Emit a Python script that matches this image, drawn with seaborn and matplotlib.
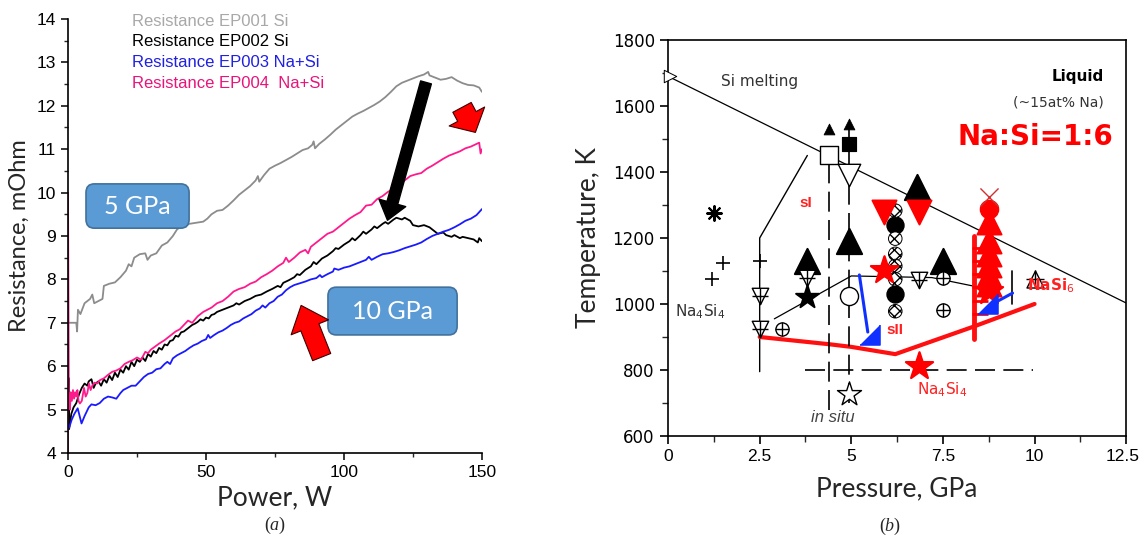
"""Resistance vs power curves (a) and Na-Si P-T phase diagram (b)"""
import numpy as np
import pandas as pd
import matplotlib
matplotlib.use('Agg')
import matplotlib.pyplot as plt
import matplotlib.transforms as mtransforms
import seaborn as sns
from matplotlib.patches import FancyArrowPatch, FancyBboxPatch
from matplotlib.ticker import MultipleLocator

# ---------------- data, panel (a): resistance (mOhm) vs power (W)
grey_pts = [(0, 7.0), (2, 7.0), (3.0, 7.0), (3.3, 6.8), (3.6, 7.3), (4.5, 7.2), (6, 7.45), (8, 7.55),
            (8.8, 7.65), (9.5, 7.45), (11, 7.5), (12.5, 7.55), (13, 7.85), (15, 7.9), (17, 7.93),
            (19, 8.05), (21, 8.2), (22, 8.35), (23, 8.3), (24, 8.5), (26, 8.58), (28, 8.6), (28.8, 8.45),
            (30, 8.55), (32, 8.6), (34, 8.78), (36, 8.85), (38, 9.0), (39.5, 9.15), (41, 9.22), (43, 9.27),
            (46, 9.3), (49, 9.33), (50.5, 9.4), (52, 9.5), (54, 9.58), (56, 9.6), (58, 9.7), (60, 9.82),
            (62, 9.95), (64, 10.05), (66, 10.15), (68, 10.28), (68.8, 10.38), (69.3, 10.25), (71, 10.4),
            (73, 10.55), (75, 10.62), (77, 10.68), (79, 10.75), (81, 10.82), (83, 10.9), (85, 10.98),
            (87, 11.02), (88.5, 11.1), (89, 11.18), (89.5, 11.02), (91, 11.12), (93, 11.22), (95, 11.33),
            (97, 11.45), (99, 11.55), (101, 11.65), (103, 11.75), (105, 11.82), (107, 11.88), (109, 11.95),
            (111, 12.02), (113, 12.1), (115, 12.2), (117, 12.32), (119, 12.45), (121, 12.53), (123, 12.58),
            (125, 12.63), (127, 12.68), (129, 12.72), (130.5, 12.78), (131, 12.7), (133, 12.65), (135, 12.6),
            (137, 12.62), (139, 12.66), (141, 12.58), (143, 12.52), (145, 12.48), (147, 12.47), (149, 12.42),
            (150, 12.32)]

black_pts = [(0.4, 5.72), (0.4, 4.55), (1.2, 4.9), (2, 5.05), (3, 5.15), (4, 5.35), (5, 5.5), (6, 5.6),
             (7, 5.55), (7.5, 5.65), (8.5, 5.7), (9.3, 5.5), (10, 5.6), (11, 5.65), (12, 5.55), (13, 5.7),
             (14, 5.62), (15, 5.78), (16, 5.68), (17, 5.85), (18, 5.75), (19, 5.92), (20, 5.85), (21, 6.0),
             (22, 5.92), (23, 6.1), (24, 6.0), (25, 6.15), (26, 6.1), (27, 6.2), (28, 6.12), (29, 6.28),
             (30, 6.22), (31, 6.35), (32, 6.3), (33, 6.42), (34, 6.38), (35, 6.5), (36, 6.48), (37, 6.58),
             (38, 6.6), (39, 6.7), (40, 6.68), (41, 6.78), (42, 6.8), (43, 6.85), (44, 6.9), (45, 6.95),
             (46, 6.98), (47, 7.02), (48, 7.08), (49, 7.05), (50, 7.12), (51, 7.1), (52, 7.18), (53, 7.2),
             (54, 7.25), (56, 7.3), (58, 7.35), (60, 7.4), (61, 7.45), (62, 7.42), (64, 7.5), (66, 7.55),
             (68, 7.62), (70, 7.65), (72, 7.72), (74, 7.78), (76, 7.85), (77, 7.82), (78, 7.92), (80, 7.98),
             (82, 8.05), (83, 8.12), (84, 8.1), (86, 8.22), (88, 8.3), (89, 8.4), (90, 8.35), (92, 8.48),
             (94, 8.55), (96, 8.65), (97, 8.72), (98, 8.7), (100, 8.8), (102, 8.88), (103, 8.95), (104, 8.9),
             (106, 9.02), (107, 9.1), (108, 9.05), (110, 9.15), (111, 9.22), (112, 9.18), (114, 9.28),
             (115, 9.32), (116, 9.28), (118, 9.38), (119, 9.42), (121, 9.38), (122, 9.42), (124, 9.35),
             (125, 9.25), (127, 9.22), (129, 9.25), (131, 9.2), (133, 9.1), (134, 9.05), (136, 9.08),
             (137, 9.02), (139, 8.98), (140, 9.02), (142, 8.95), (143, 8.98), (145, 8.95), (147, 8.92),
             (148.5, 8.85), (149, 8.95), (150, 8.88)]

blue_pts = [(0, 4.55), (0.5, 4.6), (1.3, 4.76), (2.3, 4.9), (3.5, 5.03), (4.9, 4.68), (6, 4.85), (7.5, 5.05),
            (8.5, 5.12), (10, 5.1), (11.5, 5.15), (13, 5.25), (14.5, 5.3), (16, 5.28), (17.5, 5.25),
            (19, 5.38), (20, 5.45), (21.5, 5.5), (23, 5.55), (24.5, 5.55), (26, 5.65), (27.5, 5.75),
            (29, 5.82), (30.5, 5.85), (32, 5.93), (33.5, 5.95), (35, 6.05), (36, 6.1), (37, 6.05),
            (38, 6.18), (39.5, 6.25), (41, 6.3), (42.5, 6.35), (44, 6.42), (45.5, 6.48), (47, 6.52),
            (48.5, 6.58), (50, 6.62), (50.8, 6.72), (51.5, 6.65), (53, 6.72), (54.5, 6.78), (56, 6.82),
            (57.5, 6.88), (59, 6.95), (60.5, 7.0), (62, 7.03), (63.5, 7.1), (65, 7.15), (66.5, 7.2),
            (68, 7.28), (69.5, 7.33), (70.5, 7.4), (71.5, 7.35), (73, 7.45), (74.5, 7.5), (76, 7.6),
            (77.5, 7.65), (79, 7.75), (80.5, 7.82), (82, 7.87), (84, 7.91), (86, 7.95), (88, 8.0),
            (90, 8.03), (91.3, 8.1), (92, 8.05), (94, 8.12), (96, 8.18), (96.5, 8.25), (98, 8.22),
            (100, 8.27), (102, 8.3), (104, 8.35), (106, 8.4), (108, 8.45), (109, 8.52), (110, 8.45),
            (112, 8.52), (114, 8.58), (116, 8.6), (118, 8.63), (120, 8.67), (122, 8.72), (124, 8.76),
            (126, 8.8), (128, 8.85), (130, 8.93), (132, 9.0), (134, 9.05), (136, 9.1), (138, 9.14),
            (140, 9.2), (142, 9.27), (144, 9.35), (146, 9.4), (148, 9.48), (150, 9.62)]

pink_pts = [(0, 4.0), (0, 10.0), (0.3, 5.3), (0.7, 5.0), (1.0, 5.4), (1.4, 5.2), (1.8, 5.45), (2.2, 5.25),
            (2.6, 5.4), (3.0, 5.3), (3.4, 5.45), (3.8, 5.2), (4.3, 5.14), (5.0, 5.2), (5.8, 5.5), (6.4, 5.3),
            (7.0, 5.38), (7.6, 5.6), (8.2, 5.45), (8.8, 5.55), (9.6, 5.62), (10.5, 5.6), (11.6, 5.68),
            (13, 5.72), (14.5, 5.8), (16, 5.87), (17.5, 5.9), (19, 5.95), (20.5, 6.05), (22, 6.1),
            (23.5, 6.14), (25, 6.2), (26.5, 6.15), (28, 6.33), (29, 6.3), (30, 6.38), (31.5, 6.45),
            (33, 6.52), (35, 6.6), (37, 6.7), (39, 6.8), (40.5, 6.85), (42, 6.95), (43.5, 7.05), (45, 7.0),
            (47, 7.15), (49, 7.25), (50.5, 7.3), (52, 7.35), (54, 7.45), (56, 7.5), (58, 7.6), (60, 7.72),
            (62, 7.78), (64, 7.82), (66, 7.9), (68, 7.95), (70, 8.05), (72, 8.12), (74, 8.2), (76, 8.3),
            (78, 8.38), (79, 8.5), (80, 8.4), (82, 8.5), (84, 8.62), (86, 8.68), (87, 8.6), (88, 8.75),
            (90, 8.85), (92, 8.95), (94, 9.05), (96, 9.1), (98, 9.2), (100, 9.3), (102, 9.4), (104, 9.48),
            (106, 9.55), (108, 9.7), (110, 9.72), (112, 9.85), (114, 9.92), (116, 10.02), (118, 10.08),
            (120, 10.2), (122, 10.28), (124, 10.38), (126, 10.42), (128, 10.45), (130, 10.55), (132, 10.62),
            (134, 10.7), (136, 10.78), (138, 10.85), (140, 10.9), (142, 10.95), (144, 11.02), (146, 11.06),
            (148, 11.12), (149, 11.15), (149.5, 10.9), (150, 11.0)]

series_names = ['Resistance EP001 Si', 'Resistance EP002 Si', 'Resistance EP003 Na+Si', 'Resistance EP004  Na+Si']
series_pts = [grey_pts, black_pts, blue_pts, pink_pts]
line_colors = ['#8c8c8c', '#000000', '#1a1aff', '#ff1a8c']
label_colors = ['#a8a8a8', '#000000', '#2020e0', '#e8147a']

# ---------------- data, panel (b): pressure (GPa) / temperature (K)
si_melt_p, si_melt_t = [0, 12.5], [1690, 1003]
si_bound_p, si_bound_t = [3.8, 2.5, 2.5], [1450, 1200, 795]
na4si4_bound_p, na4si4_bound_t = [2.9, 5.0, 7.2, 8.3], [955, 1085, 1080, 1055]
red_bound_p, red_bound_t = [2.5, 4.4, 5.0, 6.2, 8.3, 10.0], [900, 878, 870, 848, 930, 1000]
blue_arrow_p, blue_arrow_t = [5.22, 5.45], [1088, 915]
blue_arrow2_p, blue_arrow2_t = [8.8, 9.4], [997, 1033]

tri_big_p, tri_big_t = [3.8, 4.95, 6.8, 7.5], [1130, 1190, 1355, 1130]
tri_small_p, tri_small_t = [4.4, 4.95], [1530, 1545]
sq_fill_p, sq_fill_t = [4.95], [1485]
sq_open_p, sq_open_t = [4.4], [1450]
vopen_p, vopen_t = [4.95], [1390]
circ_open_p, circ_open_t = [4.95], [1025]
circ_fill_p, circ_fill_t = [6.2, 6.2], [1240, 1030]
hatch_p, hatch_t = [6.2, 6.2, 6.2, 6.2, 6.2, 6.2], [1283, 1198, 1152, 1115, 1075, 978]
plus_p, plus_t = [1.2, 1.5, 2.5], [1075, 1125, 1130]
aster_p, aster_t = [1.25], [1275]
vcross_p, vcross_t = [2.5, 2.5, 3.8, 6.85], [1025, 925, 1078, 1072]
oplus_p, oplus_t = [3.1, 7.5, 7.5], [925, 1078, 982]
star_p, star_t = [3.8], [1020]
star_open_p, star_open_t = [4.95], [728]
tri_cross_p, tri_cross_t = [10.0], [1075]
red_v_p, red_v_t = [5.9, 6.85], [1278, 1278]
red_star_p, red_star_t = [5.9, 6.85, 8.75], [1102, 813, 1040]
red_tri_p, red_tri_t = [8.75, 8.75, 8.75, 8.75, 8.75, 8.75], [1248, 1190, 1150, 1118, 1088, 1060]
red_circ_p, red_circ_t = [8.75], [1288]
red_x_p, red_x_t = [8.75], [1325]
red_rung_p, red_rung_t = [8.5, 8.5, 8.5, 8.5, 8.5, 8.5], [1170, 1130, 1090, 1050, 1010, 970]
blue_tri_p, blue_tri_t = [8.72, 5.5], [1000, 905]

sns.set_theme(style='ticks')
plt.rcParams['font.family'] = ['Liberation Sans', 'DejaVu Sans']
plt.rcParams['mathtext.fontset'] = 'custom'
plt.rcParams['mathtext.rm'] = 'DejaVu Sans'
plt.rcParams['mathtext.it'] = 'Liberation Serif:italic'

fig = plt.figure(figsize=(11.41, 5.36), dpi=100)
ax1 = fig.add_axes([0.0596, 0.1549, 0.3628, 0.8097])
ax2 = fig.add_axes([0.5855, 0.1866, 0.4015, 0.7388])

# ================= panel (a)
for name, pts, col in zip(series_names, series_pts, line_colors):
    df = pd.DataFrame(pts, columns=['Power', 'R'])
    sns.lineplot(data=df, x='Power', y='R', sort=False, estimator=None, color=col, lw=1.3, ax=ax1)

ax1.set_xlim(0, 150)
ax1.set_ylim(4, 14)
ax1.xaxis.set_major_locator(MultipleLocator(50))
ax1.xaxis.set_minor_locator(MultipleLocator(25))
ax1.yaxis.set_major_locator(MultipleLocator(1))
ax1.yaxis.set_minor_locator(MultipleLocator(0.5))
ax1.tick_params(which='major', direction='out', length=5, width=1.1, labelsize=12.5, colors='black')
ax1.tick_params(which='minor', direction='out', length=3, width=1.0)
for s in ['top', 'right']:
    ax1.spines[s].set_visible(False)
for s in ['left', 'bottom']:
    ax1.spines[s].set_linewidth(1.2)
    ax1.spines[s].set_color('black')
ax1.set_xlabel('Power, W', fontsize=19, family='Lato', labelpad=4)
ax1.set_ylabel('Resistance, mOhm', fontsize=17, family='Lato', labelpad=5)

for i, (name, col) in enumerate(zip(series_names, label_colors)):
    ax1.text(23.2, 13.95 - 0.48 * i, name, color=col, fontsize=12, va='center', ha='left')

# blue GPa boxes
for (x0, y0, w, h), txt in [((0.0435, 0.518, 0.249, 0.102), '5 GPa'),
                            ((0.628, 0.272, 0.312, 0.110), '10 GPa')]:
    box = FancyBboxPatch((x0, y0), w, h, boxstyle='round,pad=0,rounding_size=0.02',
                         transform=ax1.transAxes, fc='#5b9bd5', ec='#41719c', lw=1.2,
                         clip_on=False, zorder=5)
    ax1.add_patch(box)
    ax1.text(x0 + w / 2, y0 + h / 2, txt, transform=ax1.transAxes, ha='center', va='center',
             color='white', fontsize=18, family='Lato', zorder=6)

# arrows
ax1.add_patch(FancyArrowPatch((130.0, 12.6), (115.5, 9.3), arrowstyle='simple,head_length=13,head_width=20,tail_width=8',
                              mutation_scale=1, fc='black', ec='black', zorder=7, clip_on=False))
ax1.add_patch(FancyArrowPatch((142.3, 12.02), (148.1, 11.33), arrowstyle='simple,head_length=13,head_width=29,tail_width=15',
                              mutation_scale=1, fc='#ff0000', ec='#400000', lw=0.8, zorder=7, clip_on=False))
ax1.add_patch(FancyArrowPatch((92.3, 6.15), (84.1, 7.46), arrowstyle='simple,head_length=17,head_width=29,tail_width=14',
                              mutation_scale=1, fc='#ff0000', ec='#400000', lw=0.8, zorder=7, clip_on=False))

# ================= panel (b)
def line(px, pt, **kw):
    sns.lineplot(x=px, y=pt, sort=False, estimator=None, ax=ax2, **kw)

line(si_melt_p, si_melt_t, color='black', lw=0.9)
line(si_bound_p, si_bound_t, color='black', lw=1.0)
line(na4si4_bound_p, na4si4_bound_t, color='black', lw=0.9)
line(red_bound_p, red_bound_t, color='#ff1010', lw=3.0)
line([4.4, 4.4], [680, 1450], color='black', lw=1.2, dashes=(12, 5))
line([4.95, 4.95], [700, 1400], color='black', lw=1.2, dashes=(12, 5))
line([4.95, 4.95], [1400, 1545], color='black', lw=1.2)
line([3.75, 9.95], [800, 800], color='black', lw=1.2, dashes=(12, 5))
line([9.38, 9.38], [1000, 1100], color='black', lw=1.2)
line([8.35, 8.35], [895, 1205], color='#ff1010', lw=3.5)
line(blue_arrow_p, blue_arrow_t, color='#1030ff', lw=2.2)
line(blue_arrow2_p, blue_arrow2_t, color='#1030ff', lw=2.2)

def pts(px, pt, **kw):
    sns.scatterplot(x=px, y=pt, ax=ax2, zorder=4, **kw)

pts(tri_big_p, tri_big_t, marker='^', s=330, color='black', edgecolor='black')
pts(tri_small_p, tri_small_t, marker='^', s=60, color='black', edgecolor='black')
pts(sq_fill_p, sq_fill_t, marker='s', s=110, color='black', edgecolor='black')
pts(sq_open_p, sq_open_t, marker='s', s=150, facecolor='white', edgecolor='black', linewidth=1.0)
pts(vopen_p, vopen_t, marker='v', s=260, facecolor='white', edgecolor='black', linewidth=1.0)
pts(circ_open_p, circ_open_t, marker='o', s=170, facecolor='white', edgecolor='black', linewidth=1.0)
pts(circ_fill_p, circ_fill_t, marker='o', s=150, color='black', edgecolor='black')
pts(hatch_p, hatch_t, marker='o', s=95, facecolor='white', edgecolor='black', linewidth=0.7, hatch='xxx')
pts(plus_p, plus_t, marker='+', s=110, color='black', linewidth=1.2)
pts(aster_p, aster_t, marker=(8, 2, 0), s=110, color='black', linewidth=1.5)
pts(vcross_p, vcross_t, marker='v', s=140, facecolor='white', edgecolor='black', linewidth=1.0)
pts(vcross_p, vcross_t, marker='+', s=140, color='black', linewidth=1.0)
pts(oplus_p, oplus_t, marker='o', s=90, facecolor='white', edgecolor='black', linewidth=1.0)
pts(oplus_p, oplus_t, marker='+', s=90, color='black', linewidth=1.0)
pts(star_p, star_t, marker='*', s=300, color='black', edgecolor='black')
pts(star_open_p, star_open_t, marker='*', s=330, facecolor='white', edgecolor='black', linewidth=1.0)
pts(tri_cross_p, tri_cross_t, marker='^', s=150, facecolor='white', edgecolor='black', linewidth=1.0)
pts(tri_cross_p, tri_cross_t, marker='+', s=150, color='black', linewidth=1.0)
pts(red_v_p, red_v_t, marker='v', s=300, color='#ff0000', edgecolor='#ff0000')
pts(red_star_p, red_star_t, marker='*', s=420, color='#ff0000', edgecolor='#ff0000')
pts(red_tri_p, red_tri_t, marker='^', s=300, color='#ff0000', edgecolor='#ff0000')
pts(red_circ_p, red_circ_t, marker='o', s=170, color='#ff0000', edgecolor='#ff0000')
pts(red_x_p, red_x_t, marker='x', s=170, color='#d03030', linewidth=1.0)
pts(red_rung_p, red_rung_t, marker='_', s=140, color='#ff0000', linewidth=2.0)
pts(blue_tri_p, blue_tri_t, marker=[(-1, -1), (1, -1), (1, 1)], s=200, color='#1030ff', edgecolor='#1030ff')

ax2.set_xlim(0, 12.5)
ax2.set_ylim(600, 1800)
ax2.xaxis.set_major_locator(MultipleLocator(2.5))
ax2.xaxis.set_minor_locator(MultipleLocator(1.25))
ax2.yaxis.set_major_locator(MultipleLocator(200))
ax2.yaxis.set_minor_locator(MultipleLocator(100))
ax2.set_xticks([0, 2.5, 5, 7.5, 10, 12.5], ['0', '2.5', '5', '7.5', '10', '12.5'])
ax2.tick_params(which='major', direction='out', length=6, width=1.2, labelsize=12, colors='black')
ax2.tick_params(which='minor', direction='out', length=4, width=1.0)
for lab in ax2.get_yticklabels():
    lab.set_family('DejaVu Sans')
for lab in ax2.get_xticklabels():
    lab.set_family('Liberation Sans')
    lab.set_fontsize(12.5)
# last x label sits against the figure edge; nudge it left a little
last = ax2.get_xticklabels()[-1]
last.set_transform(last.get_transform() + mtransforms.ScaledTranslation(-4 / 100, 0, fig.dpi_scale_trans))
for s in ax2.spines.values():
    s.set_linewidth(1.2)
    s.set_color('black')
ax2.set_xlabel('Pressure, GPa', fontsize=19, family='Lato', labelpad=9)
ax2.set_ylabel('Temperature, K', fontsize=19, family='Lato', labelpad=8)

# open marker at the start of the Si melting line
sns.scatterplot(x=[0.05], y=[1690], marker='>', s=80, facecolor='white', edgecolor='black', ax=ax2, zorder=4, clip_on=False)

ax2.text(1.44, 1673, 'Si melting', fontsize=11, color='#333333', family='DejaVu Sans', va='center')
ax2.text(11.9, 1688, 'Liquid', fontsize=11, fontweight='bold', color='black', family='DejaVu Sans', ha='right', va='center')
ax2.text(11.9, 1610, '(~15at% Na)', fontsize=10, color='#333333', family='DejaVu Sans', ha='right', va='center')
ax2.text(12.15, 1507, 'Na:Si=1:6', fontsize=20, fontweight='bold', color='#ff0000', family='DejaVu Sans', ha='right', va='center')
ax2.text(3.75, 1306, 'sI', fontsize=11, fontweight='bold', color='#ff2020', ha='center', va='center')
ax2.text(6.2, 921, 'sII', fontsize=11, fontweight='bold', color='#ff2020', ha='center', va='center')
ax2.text(0.2, 975, 'Na$_4$Si$_4$', fontsize=11, color='#333333', family='DejaVu Sans', va='center')
ax2.text(6.8, 740, 'Na$_4$Si$_4$', fontsize=11, color='#ff2020', family='DejaVu Sans', va='center')
ax2.text(9.8, 1056, 'NaSi$_6$', fontsize=11, fontweight='bold', color='#ff2020', family='DejaVu Sans', va='center', zorder=6)
ax2.text(3.9, 657, 'in situ', fontsize=12, style='italic', color='#444444', va='center')

fig.text(275 / 1141, 1 - 525 / 536, '($a$)', fontsize=13, family='Liberation Serif', ha='center', va='center')
fig.text(890 / 1141, 1 - 526 / 536, '($b$)', fontsize=13, family='Liberation Serif', ha='center', va='center')

fig.savefig('out.png', dpi=100)
